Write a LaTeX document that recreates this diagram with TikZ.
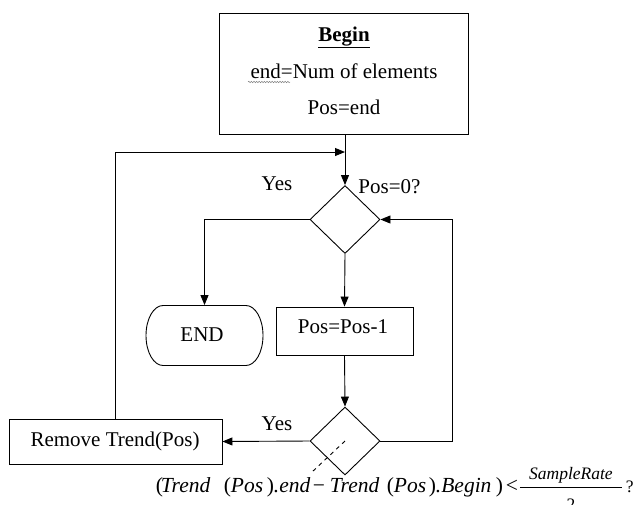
\documentclass[tikz,border=0pt]{standalone}
\usepackage{fontspec}
\setmainfont{Liberation Serif}
\usetikzlibrary{arrows.meta,shapes.geometric,decorations.pathmorphing}
\newcommand{\putat}[2]{\makebox[0pt][l]{\hspace*{#1pt}#2}}
\begin{document}
\begin{tikzpicture}[x=1pt,y=-1pt,
  line width=0.9pt,
  every node/.style={font=\fontsize{21}{25}\selectfont},
  box/.style={draw, rectangle, inner sep=0pt},
  decision/.style={draw, diamond, inner sep=0pt, minimum width=70pt, minimum height=68pt},
  txt/.style={inner sep=0pt},
  arr/.style={-{Triangle[length=10pt,width=8pt]}},
  wavy/.style={draw=gray, line width=0.5pt, decorate, decoration={snake, amplitude=0.7pt, segment length=2.6pt}},
  guess/.style={dash pattern=on 4pt off 4pt},
]
\useasboundingbox (0,0) rectangle (634,504);

% boxes
\node[box, minimum width=249pt, minimum height=121pt] (begin) at (344,73.5) {};
\node[txt, anchor=base] (t1) at (344,41) {\textbf{\underline{Begin}}};
\node[txt, anchor=base] (t2) at (344,78) {end=Num of elements};
\node[txt, anchor=base] (t3) at (344,114) {Pos=end};
\draw[wavy] (248,82) -- (290,82);

\node[decision] (d1) at (345,219.5) {};
\node[txt, anchor=base west] (q1) at (358,193) {Pos=0?};
\node[txt, anchor=base] (y1) at (277,190) {Yes};

\node[txt, minimum width=117pt, minimum height=60pt] (END) at (204.5,335.5) {};
\draw (163,305.5) -- (246,305.5)
  .. controls (255.4,305.5) and (263,318.9) .. (263,335.5)
  .. controls (263,352.1) and (255.4,365.5) .. (246,365.5)
  -- (163,365.5)
  .. controls (153.6,365.5) and (146,352.1) .. (146,335.5)
  .. controls (146,318.9) and (153.6,305.5) .. (163,305.5) -- cycle;
\node[txt, anchor=base] (tEND) at (202,341.5) {END};

\node[box, minimum width=137pt, minimum height=48pt] (pos) at (344.5,331) {};
\node[txt, anchor=base] (tpos) at (343,333.5) {Pos=Pos-1};

\node[decision] (d2) at (345,441) {};
\node[txt, anchor=base] (y2) at (277,430) {Yes};

\node[box, minimum width=213pt, minimum height=45pt] (remove) at (115.5,441.5) {};
\node[txt, anchor=base] (trem) at (115,446.5) {Remove Trend(Pos)};

% condition formula
\node[txt, anchor=base west, font=\fontsize{21.5}{25}\selectfont] (cond) at (155,492.7)
  {\putat{0}{(}\putat{5}{\textit{Trend}}\putat{68}{(}\putat{75}{\textit{Pos}}%
   \putat{111}{)}\putat{118}{\textit{.end}}\putat{157}{−}\putat{174}{\textit{Trend}}%
   \putat{231}{(}\putat{238}{\textit{Pos}}\putat{273}{)}\putat{280}{\textit{.Begin}}%
   \putat{340}{)}\putat{350}{<}%
   \putat{364}{\raisebox{5pt}{\rule{102pt}{0.8pt}}}%
   \putat{364}{\raisebox{13.5pt}{\makebox[102pt]{\fontsize{17.5}{20}\selectfont\itshape SampleRate}}}%
   \putat{364}{\raisebox{-18pt}{\makebox[102pt]{\fontsize{17.5}{20}\selectfont 2}}}%
   \putat{470}{\fontsize{17.5}{20}\selectfont ?}};

% connectors
\coordinate (join) at (345,152);
\coordinate (rt) at (452,441);
\coordinate (dend) at (312,472);
\draw[arr] (begin.south -| d1.north) -- (d1.north);
\draw[arr] (remove.north) |- (join);
\draw[arr] (d1.west) -| (END.north);
\draw[arr] (d1.south) -- (pos.north);
\draw[arr] (pos.south) -- (d2.north);
\draw[arr] (d2.west) -- (remove.east);
\draw[arr] (d2.east) -- (rt) |- (d1.east);
\draw[guess] (d2.center) -- (dend);
\end{tikzpicture}
\end{document}
